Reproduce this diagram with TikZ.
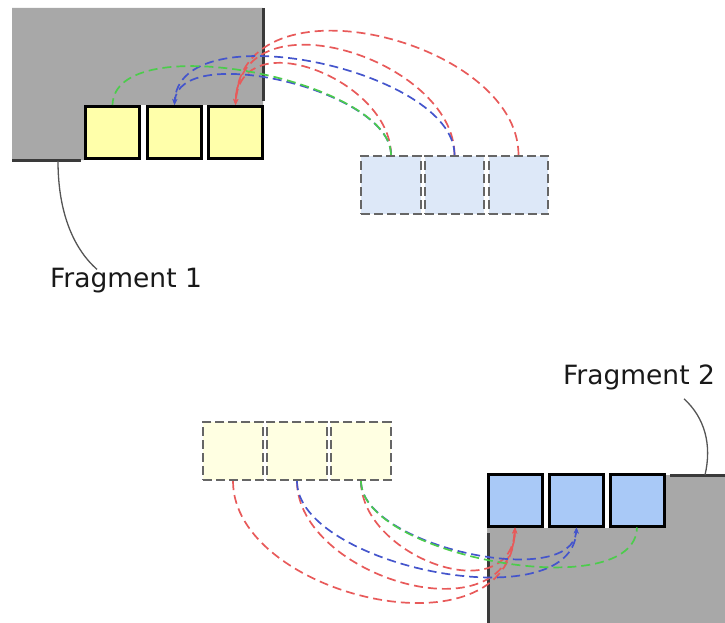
\documentclass[tikz,border=0pt]{standalone}
\usepackage{fontspec}
\setmainfont{DejaVu Sans}
\usetikzlibrary{arrows.meta}
\definecolor{fraggray}{HTML}{A8A8A8}
\definecolor{edgedark}{HTML}{3A3A3A}
\definecolor{boxyellow}{HTML}{FFFFAA}
\definecolor{paleyellow}{HTML}{FFFFE2}
\definecolor{boxblue}{HTML}{A9C9F7}
\definecolor{paleblue}{HTML}{DDE8F8}
\definecolor{dashgray}{HTML}{666666}
\definecolor{arcred}{HTML}{E85A5A}
\definecolor{arcblue}{HTML}{4455CC}
\definecolor{arcgreen}{HTML}{4CCC4C}
\definecolor{leadgray}{HTML}{555555}
\begin{document}
\begin{tikzpicture}[x=1pt,y=-1pt,
  solidbox/.style={draw=black, line width=3pt, minimum width=54pt, minimum height=52pt, inner sep=0pt},
  dashbox/.style={draw=dashgray, line width=2.3pt, dash pattern=on 9pt off 4pt, minimum width=59.5pt, minimum height=58pt, inner sep=0pt},
  arcbase/.style={line width=1.7pt, dash pattern=on 9pt off 5pt},
  redarc/.style={arcbase, draw=arcred, -{Stealth[length=6pt,width=5pt]}},
  bluearc/.style={arcbase, draw=arcblue, -{Stealth[length=6pt,width=5pt]}},
  greenarc/.style={arcbase, draw=arcgreen},
  edge/.style={draw=edgedark, line width=3pt},
  lead/.style={draw=leadgray, line width=1.3pt},
  label/.style={font=\fontsize{26.5}{30}\selectfont, inner sep=0pt, text=black!90}
]
\useasboundingbox (0,0) rectangle (725,623);
% gray fragments
\fill[fraggray] (12,8) -- (263,8) -- (263,105) -- (84,105) -- (84,160) -- (12,160) -- cycle;
\draw[edge] (263,8) -- (263,101);
\draw[edge] (12,160) -- (81,160);
\fill[fraggray] (487,623) -- (487,528) -- (666,528) -- (666,475) -- (725,475) -- (725,623) -- cycle;
\draw[edge] (488,533) -- (488,623);
\draw[edge] (670,475) -- (725,475);
% top fragment boxes
\node[solidbox, fill=boxyellow] (ty1) at (112.5,132.5) {};
\node[solidbox, fill=boxyellow] (ty2) at (174.5,132.5) {};
\node[solidbox, fill=boxyellow] (ty3) at (235.5,132.5) {};
\node[dashbox, fill=paleblue] (tb1) at (391,185) {};
\node[dashbox, fill=paleblue] (tb2) at (454.5,185) {};
\node[dashbox, fill=paleblue] (tb3) at (518.5,185) {};
% bottom fragment boxes
\node[dashbox, fill=paleyellow] (by1) at (233,451) {};
\node[dashbox, fill=paleyellow] (by2) at (297,451) {};
\node[dashbox, fill=paleyellow] (by3) at (361,451) {};
\node[solidbox, fill=boxblue] (bb1) at (515,500) {};
\node[solidbox, fill=boxblue] (bb2) at (576.5,500) {};
\node[solidbox, fill=boxblue] (bb3) at (637,500) {};
% top arcs
\draw[redarc] (tb3.north) .. controls +(0,-115) and +(5,-134) .. (ty3.north);
\draw[redarc] (tb2.north) .. controls +(0,-95) and +(5,-114) .. (ty3.north);
\draw[redarc] (tb1.north) .. controls +(0,-75) and +(5,-84) .. (ty3.north);
\draw[bluearc] (tb2.north) .. controls +(0,-85) and +(4,-94) .. (ty2.north);
\draw[bluearc] (tb1.north) .. controls +(0,-65) and +(4,-64) .. (ty2.north);
\draw[greenarc] (tb1.north) .. controls +(0,-75) and +(2,-79) .. (ty1.north);
% bottom arcs
\draw[redarc] (by1.south) .. controls +(0,115) and +(-5,134) .. (bb1.south);
\draw[redarc] (by2.south) .. controls +(0,95) and +(-5,114) .. (bb1.south);
\draw[redarc] (by3.south) .. controls +(0,75) and +(-5,84) .. (bb1.south);
\draw[bluearc] (by2.south) .. controls +(0,85) and +(-4,94) .. (bb2.south);
\draw[bluearc] (by3.south) .. controls +(0,65) and +(-4,64) .. (bb2.south);
\draw[greenarc] (by3.south) .. controls +(0,75) and +(-2,79) .. (bb3.south);
% labels
\node[label] (f1) at (126,281) {Fragment 1};
\node[label] (f2) at (639,377) {Fragment 2};
\coordinate (f1anchor) at (58,161);
\coordinate (f2anchor) at (705,475);
\draw[lead] (f1anchor) .. controls (58,215) and (75,250) .. ([xshift=-29pt,yshift=-1pt]f1.north);
\draw[lead] ([xshift=45pt,yshift=-9pt]f2.south) .. controls (705,418) and (712,445) .. (f2anchor);
\end{tikzpicture}
\end{document}
